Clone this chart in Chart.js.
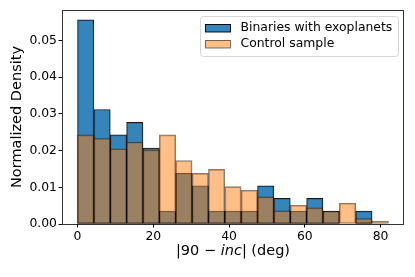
<!DOCTYPE html>
<html>
<head>
<meta charset="utf-8">
<script src="https://cdn.jsdelivr.net/npm/chart.js@4/dist/chart.umd.min.js"></script>
<style>
  html, body { margin: 0; padding: 0; background: #fff; }
  #wrap { width: 415px; height: 277px; }
</style>
</head>
<body>
<div id="wrap"><canvas id="grafico" width="415" height="277"></canvas></div>
<script>
// histogram bins (|90 - inc| in degrees)
var binStart = 0;
var binWidth = 4.319;
var binariesDensity = [0.0556, 0.0312, 0.0243, 0.0277, 0.0207, 0.0035, 0.0138, 0.0104, 0.0035, 0.0035,
                       0.0035, 0.0104, 0.0070, 0.0035, 0.0070, 0.0035, null, 0.0035, null];
var controlDensity  = [0.0243, 0.0233, 0.0205, 0.0223, 0.0202, 0.0243, 0.0173, 0.0138, 0.0149, 0.0102,
                       0.0092, 0.0074, 0.0036, 0.0051, 0.0044, 0.0035, 0.0057, 0.0015, 0.0008];
var seriesNames = ['Binaries with exoplanets', 'Control sample'];
var xTicks = [0, 20, 40, 60, 80];
var yTicks = [0, 0.01, 0.02, 0.03, 0.04, 0.05];

var xMin = -4.10, xMax = 86.17, yMax = 0.0583;

function pontos(valores) {
    var out = [];
    for (let i = 0; i < valores.length; i++) {
        out.push({x: binStart + binWidth * (i + 0.5), y: valores[i]});
    }
    return out;
}

var fonte = '"DejaVu Sans", sans-serif';

// axes frame + x label (with italic "inc") + legend box
var extras = {
    id: 'extras',
    afterDraw: function (chart) {
        var ctx = chart.ctx;
        var a = chart.chartArea;
        ctx.save();
        ctx.strokeStyle = 'rgba(0,0,0,0.8)';
        ctx.lineWidth = 1;
        ctx.strokeRect(a.left + 0.5, a.top + 0.5, a.right - a.left - 1, a.bottom - a.top);

        // x label
        var partes = [['|90 \u2212 ', 'normal'], ['inc', 'italic'], ['| (deg)', 'normal']];
        var total = 0;
        partes.forEach(function (p) {
            ctx.font = p[1] + ' 14.5px ' + fonte;
            p.push(ctx.measureText(p[0]).width);
            total += p[2];
        });
        var x = (a.left + a.right) / 2 - total / 2;
        ctx.fillStyle = '#000';
        ctx.textBaseline = 'middle';
        partes.forEach(function (p) {
            ctx.font = p[1] + ' 14.5px ' + fonte;
            ctx.fillText(p[0], x, 251);
            x += p[2];
        });

        // legend
        var lx = 200.5, ly = 16.5, lw = 198, lh = 40;
        ctx.beginPath();
        ctx.roundRect(lx, ly, lw, lh, 3);
        ctx.fillStyle = 'rgba(255,255,255,0.8)';
        ctx.fill();
        ctx.strokeStyle = '#d6d6d6';
        ctx.stroke();
        ctx.font = '12.4px ' + fonte;
        chart.data.datasets.forEach(function (ds, i) {
            var cy = 28 + i * 16;
            ctx.fillStyle = ds.backgroundColor;
            ctx.fillRect(205, cy - 4, 25.5, 8);
            ctx.strokeStyle = ds.borderColor;
            ctx.strokeRect(205.5, cy - 3.5, 25, 7.5);
            ctx.fillStyle = '#000';
            ctx.textBaseline = 'middle';
            ctx.fillText(ds.label, 240.5, cy);
        });
        ctx.restore();
    }
};

var ctx = document.getElementById('grafico');
var myChart = new Chart(ctx, {
    type: 'bar',
    data: {
        datasets: [{
            label: seriesNames[0],
            data: pontos(binariesDensity),
            backgroundColor: 'rgba(31,119,180,0.9)',
            borderColor: 'rgba(0,0,0,0.9)',
            borderWidth: 1,
            borderSkipped: false,
            order: 2
        }, {
            label: seriesNames[1],
            data: pontos(controlDensity),
            backgroundColor: 'rgba(255,127,14,0.5)',
            borderColor: 'rgba(0,0,0,0.5)',
            borderWidth: 1,
            borderSkipped: false,
            order: 1
        }]
    },
    options: {
        responsive: false,
        animation: false,
        events: [],
        grouped: false,
        barPercentage: 1,
        categoryPercentage: 1,
        layout: {
            padding: {left: 0, right: 11, top: 10, bottom: 0}
        },
        plugins: {
            legend: {display: false},
            tooltip: {enabled: false}
        },
        scales: {
            x: {
                type: 'linear',
                min: xMin,
                max: xMax,
                offset: false,
                grid: {display: true, offset: false, drawOnChartArea: false, tickLength: 3.5, tickColor: '#000'},
                border: {display: false},
                afterBuildTicks: function (axis) {
                    axis.ticks = xTicks.map(function (v) { return {value: v}; });
                },
                afterFit: function (axis) { axis.height = 53; },
                ticks: {
                    color: '#000',
                    padding: 2,
                    maxRotation: 0,
                    font: {family: fonte, size: 12.4},
                    callback: function (v) { return String(v); }
                }
            },
            y: {
                min: 0,
                max: yMax,
                grid: {display: true, drawOnChartArea: false, tickLength: 3.5, tickColor: '#000'},
                border: {display: false},
                afterBuildTicks: function (axis) {
                    axis.ticks = yTicks.map(function (v) { return {value: v}; });
                },
                afterFit: function (axis) { axis.width = 62; },
                title: {
                    display: true,
                    text: 'Normalized Density',
                    color: '#000',
                    padding: {top: 9, bottom: 0},
                    font: {family: fonte, size: 14.5}
                },
                ticks: {
                    color: '#000',
                    padding: 1.5,
                    font: {family: fonte, size: 12.4},
                    callback: function (v) { return v.toFixed(2); }
                }
            }
        }
    },
    plugins: [extras]
});
</script>
</body>
</html>
